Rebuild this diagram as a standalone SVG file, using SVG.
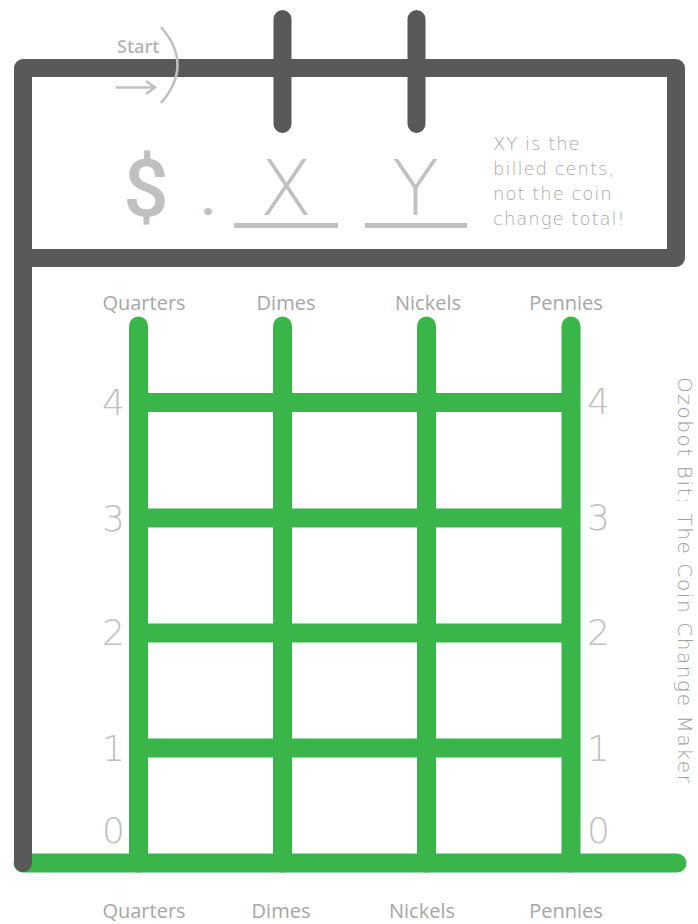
<svg xmlns="http://www.w3.org/2000/svg" width="698" height="924" viewBox="0 0 698 924">
<style>
.frame{fill:none;stroke:#595959;stroke-width:18;stroke-linecap:round;stroke-linejoin:round}
.grid{fill:none;stroke:#39b54a;stroke-width:19}
.gr{stroke-linecap:round}
.lbl{font-family:"Open Sans","Liberation Sans",sans-serif;font-size:20px;fill:#a6a6a6;text-anchor:middle}
.num{font-family:"DejaVu Sans","Liberation Sans",sans-serif;font-weight:200;font-size:36px;fill:#c0c0c0}
.big{font-family:"DejaVu Sans","Liberation Sans",sans-serif;font-weight:200;font-size:77px;fill:#c0c0c0;text-anchor:middle}
.note{font-family:"DejaVu Sans","Liberation Sans",sans-serif;font-weight:200;font-size:18px;fill:#a8a8a8;letter-spacing:1px}
</style>
<rect width="698" height="924" fill="#ffffff"/>
<g id="connectors">
  <path class="grid gr" d="M23,863 H677"/>
  <path class="grid gr" d="M138.5,326 V863 M282.5,326 V863 M426.5,326 V863 M571,326 V863"/>
  <path class="grid" d="M138.5,402.5 H571 M138.5,518 H571 M138.5,633 H571 M138.5,748 H571"/>
  <path class="frame" d="M23,863 V68 H676 V258 H23"/>
  <path class="frame" d="M282.5,19 V124 M416.5,19 V124"/>
</g>
<g id="start">
  <text x="117" y="53" font-family="Open Sans, Liberation Sans, sans-serif" font-weight="600" font-size="18" fill="#b4b4b4">Start</text>
  <path d="M116,87.5 H155 M146,81 L155,87.5 L146,94" fill="none" stroke="#c0c0c0" stroke-width="2.5"/>
  <path d="M161,27 Q194,65 161,103" fill="none" stroke="#c0c0c0" stroke-width="2.5"/>
</g>
<g id="amount">
  <text x="146" y="216" font-family="Roboto, Liberation Sans, sans-serif" font-weight="500" font-size="80" fill="#c0c0c0" text-anchor="middle">$</text>
  <text x="208" y="215" font-family="Roboto, Liberation Sans, sans-serif" font-weight="900" font-size="42" fill="#c0c0c0" text-anchor="middle">.</text>
  <text class="big" x="286" y="215">X</text>
  <text class="big" x="415.5" y="215">Y</text>
  <rect x="234" y="223" width="104" height="5" fill="#c0c0c0"/>
  <rect x="365" y="223" width="102" height="5" fill="#c0c0c0"/>
</g>
<g id="note">
  <text class="note" x="493" y="150">XY is the</text>
  <text class="note" x="493" y="175">billed cents,</text>
  <text class="note" x="493" y="200">not the coin</text>
  <text class="note" x="493" y="225">change total!</text>
</g>
<g id="labels-top">
  <text class="lbl" x="144" y="310">Quarters</text>
  <text class="lbl" x="286" y="310">Dimes</text>
  <text class="lbl" x="428" y="310">Nickels</text>
  <text class="lbl" x="566" y="310">Pennies</text>
</g>
<g id="labels-bottom">
  <text class="lbl" x="144" y="918">Quarters</text>
  <text class="lbl" x="281" y="918">Dimes</text>
  <text class="lbl" x="422" y="918">Nickels</text>
  <text class="lbl" x="566" y="918">Pennies</text>
</g>
<g id="numbers-left" text-anchor="end">
  <text class="num" x="125" y="415">4</text>
  <text class="num" x="125" y="531">3</text>
  <text class="num" x="125" y="645">2</text>
  <text class="num" x="125" y="761">1</text>
  <text class="num" x="125" y="843">0</text>
</g>
<g id="numbers-right">
  <text class="num" x="587" y="414">4</text>
  <text class="num" x="587" y="530">3</text>
  <text class="num" x="587" y="645">2</text>
  <text class="num" x="587" y="761">1</text>
  <text class="num" x="587" y="843">0</text>
</g>
<g id="title">
  <text transform="translate(678,377) rotate(90)" font-family="DejaVu Sans, Liberation Sans, sans-serif" font-weight="200" font-size="20" letter-spacing="1.6" fill="#a0a0a0">Ozobot Bit: The Coin Change Maker</text>
</g>
</svg>
